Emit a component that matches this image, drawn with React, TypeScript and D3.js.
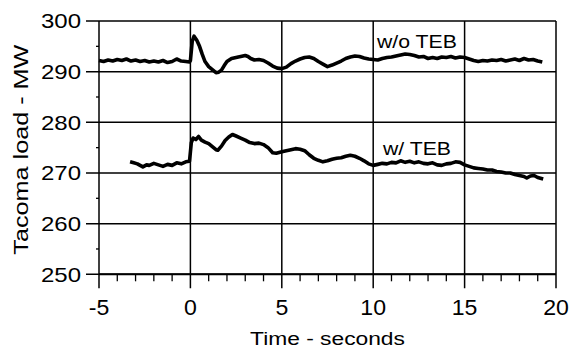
import React, { useEffect, useRef } from 'react';
import * as d3 from 'd3';

// time axis (s) and load (MW)
const woTime = [-5.0, -4.75, -4.5, -4.25, -4.0, -3.75, -3.5, -3.25, -3.0, -2.75, -2.5, -2.25, -2.0, -1.75, -1.5, -1.25, -1.0, -0.75, -0.5, -0.25, -0.05,
  0.0, 0.1, 0.2, 0.35, 0.5, 0.65, 0.8, 1.0, 1.2, 1.4, 1.55, 1.7, 1.85, 2.0, 2.25, 2.5, 2.75, 3.0, 3.15, 3.3, 3.5, 3.75, 4.0, 4.25, 4.5, 4.75,
  5.0, 5.25, 5.5, 5.75, 6.0, 6.25, 6.5, 6.75, 7.0, 7.25, 7.5, 7.75, 8.0, 8.25, 8.5, 8.75, 9.0, 9.25, 9.5, 9.75,
  10.0, 10.25, 10.5, 10.75, 11.0, 11.25, 11.5, 11.75, 12.0, 12.25, 12.5, 12.75, 13.0, 13.25, 13.5, 13.75, 14.0, 14.25, 14.5, 14.75,
  15.0, 15.25, 15.5, 15.75, 16.0, 16.25, 16.5, 16.75, 17.0, 17.25, 17.5, 17.75, 18.0, 18.25, 18.5, 18.75, 19.0, 19.25];
const woLoad = [292.2, 292.0, 292.3, 292.1, 292.4, 292.2, 292.5, 292.1, 292.3, 292.0, 292.2, 291.9, 292.1, 291.9, 292.2, 291.8, 292.0, 292.5, 292.1, 292.0, 291.9,
  292.2, 296.0, 297.0, 296.2, 295.0, 293.4, 292.0, 291.0, 290.4, 289.8, 289.9, 290.3, 291.2, 292.0, 292.6, 292.8, 293.0, 293.2, 293.0, 292.6, 292.3, 292.4, 292.2, 291.7, 291.1, 290.7,
  290.6, 290.9, 291.6, 292.1, 292.5, 292.8, 292.9, 292.6, 292.0, 291.5, 291.0, 291.3, 291.7, 292.1, 292.6, 292.9, 293.1, 293.0, 292.7, 292.5,
  292.4, 292.3, 292.6, 292.8, 292.9, 293.1, 293.3, 293.5, 293.4, 293.2, 292.9, 293.0, 292.6, 292.8, 292.6, 292.9, 292.8, 293.0, 292.7, 292.9,
  292.8, 292.5, 292.2, 292.0, 292.2, 292.1, 292.3, 292.2, 292.4, 292.1, 292.3, 292.5, 292.2, 292.6, 292.3, 292.4, 292.1, 291.9];

const wTime = [-3.3, -3.1, -2.9, -2.75, -2.6, -2.4, -2.25, -2.0, -1.75, -1.5, -1.25, -1.0, -0.75, -0.5, -0.25, -0.05,
  0.05, 0.15, 0.3, 0.45, 0.6, 0.8, 1.0, 1.2, 1.4, 1.5, 1.7, 1.9, 2.1, 2.3, 2.5, 2.75, 3.0, 3.25, 3.5, 3.75, 4.0, 4.25, 4.5, 4.7,
  5.0, 5.25, 5.5, 5.75, 6.0, 6.25, 6.5, 6.75, 7.0, 7.25, 7.5, 7.75, 8.0, 8.25, 8.5, 8.75, 9.0, 9.25, 9.5, 9.75,
  10.0, 10.25, 10.5, 10.75, 11.0, 11.25, 11.5, 11.75, 12.0, 12.25, 12.5, 12.75, 13.0, 13.25, 13.5, 13.75, 14.0, 14.25, 14.5, 14.75,
  15.0, 15.25, 15.5, 15.75, 16.0, 16.25, 16.5, 16.75, 17.0, 17.25, 17.5, 17.75, 18.0, 18.25, 18.4, 18.6, 18.8, 19.0, 19.3];
const wLoad = [272.2, 272.0, 271.8, 271.5, 271.2, 271.6, 271.5, 271.9, 271.6, 271.3, 271.7, 271.5, 272.0, 271.8, 272.2, 272.3,
  276.0, 276.9, 276.6, 277.2, 276.5, 276.1, 275.8, 275.2, 274.6, 274.5, 275.3, 276.4, 277.1, 277.6, 277.3, 276.9, 276.5, 276.0, 275.8, 275.9, 275.6, 275.0, 274.0, 273.9,
  274.2, 274.4, 274.6, 274.8, 274.7, 274.4, 273.6, 272.9, 272.5, 272.2, 272.4, 272.7, 272.9, 273.0, 273.3, 273.5, 273.3, 272.9, 272.4, 271.8,
  271.5, 271.7, 271.9, 271.8, 272.1, 272.0, 272.4, 272.1, 272.3, 272.0, 272.2, 271.9, 271.8, 272.0, 271.6, 271.5, 271.8, 271.9, 272.2, 272.1,
  271.6, 271.3, 271.0, 270.9, 270.8, 270.6, 270.6, 270.3, 270.2, 270.0, 270.0, 269.7, 269.5, 269.3, 269.0, 269.4, 269.5, 269.1, 268.8];

const seriesNames = ['w/o TEB', 'w/ TEB'];
const xDomain = [-5, 20];
const yDomain = [250, 300];

const FONT = '"Liberation Sans", Arial, Helvetica, sans-serif';
const STRETCH = 1.2; // the scanned lettering is wide

export default function App() {
  const ref = useRef<SVGSVGElement>(null);

  useEffect(() => {
    const w = 570, h = 350;
    const svg = d3.select(ref.current);
    svg.selectAll('*').remove();

    const x = d3.scaleLinear().domain(xDomain).range([99, 556]);
    const y = d3.scaleLinear().domain(yDomain).range([274.3, 21]);

    const g = svg.append('g');

    // grid
    x.ticks(5).forEach(t => {
      g.append('line').attr('x1', x(t)).attr('x2', x(t)).attr('y1', y(300)).attr('y2', y(250) + 14)
        .attr('stroke', '#000').attr('stroke-width', 1.5);
    });
    y.ticks(5).forEach(v => {
      g.append('line').attr('x1', x(-5) - 13).attr('x2', x(20)).attr('y1', y(v)).attr('y2', y(v))
        .attr('stroke', '#000').attr('stroke-width', 1.5);
    });
    // bottom axis a bit heavier
    g.append('line').attr('x1', x(-5)).attr('x2', x(20)).attr('y1', y(250)).attr('y2', y(250))
      .attr('stroke', '#000').attr('stroke-width', 2);

    // minor ticks
    x.ticks(25).filter(t => t % 5 !== 0).forEach(t => {
      g.append('line').attr('x1', x(t)).attr('x2', x(t)).attr('y1', y(250)).attr('y2', y(250) + 7)
        .attr('stroke', '#000').attr('stroke-width', 1.3);
    });
    y.ticks(10).filter(v => v % 10 !== 0).forEach(v => {
      g.append('line').attr('x1', x(-5) - 3).attr('x2', x(-5)).attr('y1', y(v)).attr('y2', y(v))
        .attr('stroke', '#000').attr('stroke-width', 1.3);
    });

    // tick labels
    y.ticks(5).forEach(v => {
      g.append('text').text(v)
        .attr('transform', `translate(81 ${y(v)}) scale(${STRETCH} 1)`)
        .attr('dy', '0.36em').attr('text-anchor', 'end')
        .style('font-family', FONT).style('font-size', '20px');
    });
    x.ticks(5).forEach(t => {
      g.append('text').text(t)
        .attr('transform', `translate(${x(t)} 315) scale(1.05 1)`)
        .attr('text-anchor', 'middle')
        .style('font-family', FONT).style('font-size', '22px');
    });

    // axis titles
    g.append('text').text('Time - seconds')
      .attr('transform', `translate(${(x(-5) + x(20)) / 2} 345) scale(${STRETCH} 1)`)
      .attr('text-anchor', 'middle')
      .style('font-family', FONT).style('font-size', '19px');
    g.append('text').text('Tacoma load - MW')
      .attr('transform', `translate(28 ${(y(250) + y(300)) / 2 + 2}) rotate(-90) scale(${STRETCH} 1)`)
      .attr('text-anchor', 'middle')
      .style('font-family', FONT).style('font-size', '21px');

    // curves
    const line = d3.line<[number, number]>().x(d => x(d[0])).y(d => y(d[1]));
    const woPts = woTime.map((t, i) => [t, woLoad[i]] as [number, number]);
    const wPts = wTime.map((t, i) => [t, wLoad[i]] as [number, number]);
    [woPts, wPts].forEach(pts => {
      g.append('path').attr('d', line(pts)).attr('fill', 'none')
        .attr('stroke', '#000').attr('stroke-width', 3.6).attr('stroke-linejoin', 'round');
    });

    // series labels
    g.append('text').text(seriesNames[0])
      .attr('transform', `translate(377 48) scale(1.18 1)`)
      .style('font-family', FONT).style('font-size', '18px');
    g.append('text').text(seriesNames[1])
      .attr('transform', `translate(383 155) scale(1.18 1)`)
      .style('font-family', FONT).style('font-size', '18px');

    svg.attr('width', w).attr('height', h);
  }, []);

  return (
    <svg ref={ref} width={570} height={350}
      style={{ position: 'absolute', left: 0, top: 0, background: '#fff' }} />
  );
}
